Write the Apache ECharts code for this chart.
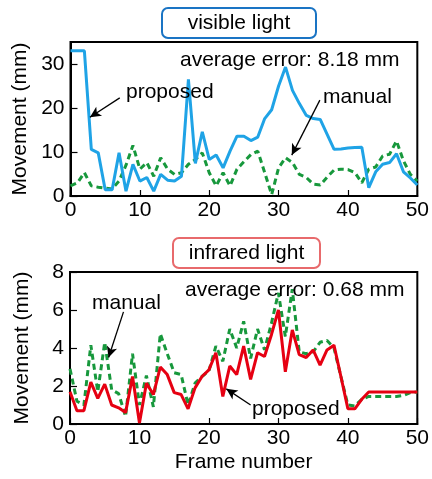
<!DOCTYPE html>
<html><head><meta charset="utf-8">
<script src="https://cdn.jsdelivr.net/npm/echarts@6/dist/echarts.min.js"></script>
<style>html,body{margin:0;padding:0;background:#fff;}#c{width:432px;height:479px;}</style>
</head><body><div id="c"></div>
<script>
const frames = [0,1,2,3,4,5,6,7,8,9,10,11,12,13,14,15,16,17,18,19,20,21,22,23,24,25,26,27,28,29,30,31,32,33,34,35,36,37,38,39,40,41,42,43,44,45,46,47,48,49,50];

const visibleProposed = [33, 33, 33, 10.6, 9.8, 1.4, 1.4, 9.8, 1.1, 7.2,
  3.4, 4.2, 1.1, 4.9, 3.6, 3.4, 4.5, 26.5, 7.4, 14.6,
  8.3, 9.3, 6.4, 10.2, 13.6, 13.6, 12.6, 13.4, 17.6, 19.6,
  25, 29.3, 24, 21, 18.3, 17.6, 17.4, 14, 10.6, 10.7,
  10.9, 11, 11.1, 1.9, 5.5, 7.2, 7.6, 9.6, 5.5, 4.1,
  2.5];
const visibleManual = [2.3, 3, 5.3, 2.3, 2, 1.8, 1.6, 3.4, 7, 11.5,
  6.1, 7.6, 4.5, 8.7, 6.1, 4.9, 5.3, 7.2, 8.3, 9.8,
  5.3, 2.3, 5.3, 2.3, 6.1, 7.8, 9.4, 10.2, 5.3, 0.3,
  6.4, 8.7, 7.6, 4.9, 4.2, 2.7, 2.5, 4.3, 5.9, 6.1,
  6.0, 5.3, 3.0, 6.1, 6.6, 9.1, 9.5, 12.5, 8, 4.9,
  3.4];
const infraredProposed = [1.7, 0.7, 0.7, 2.2, 1.35, 2.1, 1.0, 0.85, 0.6, 2.5,
  0.05, 2.15, 1.55, 3.0, 2.6, 1.65, 1.55, 0.8, 1.9, 2.5,
  2.85, 3.75, 1.45, 3.05, 2.6, 4.1, 2.35, 3.75, 3.55, 4.7,
  6.0, 2.75, 4.95, 3.65, 3.5, 3.9, 3.1, 3.9, 4.15, 2.5,
  0.8, 0.8, 1.3, 1.68, 1.68, 1.68, 1.68, 1.68, 1.68, 1.68,
  1.68];
const infraredManual = [2.9, 1.2, 1.0, 4.15, 1.7, 4.3, 1.8, 1.6, 0.4, 3.7,
  1.0, 2.55, 0.9, 4.75, 3.7, 2.7, 2.6, 1.0, 2.15, 2.5,
  2.8, 4.1, 3.3, 5.0, 4.0, 5.4, 3.45, 5.0, 3.9, 5.3,
  6.9, 4.6, 7.1, 3.8, 3.7, 3.8, 4.3, 4.4, 4.0, 2.5,
  1.0, 0.95, 1.3, 1.45, 1.45, 1.45, 1.45, 1.45, 1.5, 1.65,
  1.68];

const frameTicks = [0, 10, 20, 30, 40, 50];
const visibleTicks = [0, 10, 20, 30];
const infraredTicks = [0, 2, 4, 6, 8];

const titles = ['visible light', 'infrared light'];
const errorTexts = ['average error: 8.18 mm', 'average error: 0.68 mm'];
const yName = 'Movement (mm)';
const xName = 'Frame number';

const FONT = "'Liberation Sans', Arial, Helvetica, sans-serif";
const FS = 21;
const BLUE = '#1fa3e6', GREEN = '#17983c', RED = '#e60012';

function pairs(ys) { return frames.map((f, i) => [f, ys[i]]); }
function tickFmt(list) { return v => (list.indexOf(v) >= 0 ? String(v) : ''); }

const chart = echarts.init(document.getElementById('c'), null, {renderer: 'canvas'});

function xAxis(gi, showName) {
  return {
    type: 'value', gridIndex: gi, min: frameTicks[0], max: frameTicks[frameTicks.length - 1], interval: 10,
    axisLine: {show: true, lineStyle: {color: '#000', width: 2}},
    axisTick: {show: true, inside: true, length: 6, lineStyle: {color: '#000', width: 1.2}},
    axisLabel: {color: '#000', fontSize: FS, fontFamily: FONT, margin: 4, formatter: tickFmt(frameTicks)},
    splitLine: {show: false},
    name: showName ? xName : '', nameLocation: 'middle', nameGap: 28,
    nameTextStyle: {color: '#000', fontSize: FS, fontFamily: FONT}
  };
}
function yAxis(gi, max, interval, ticks) {
  return {
    type: 'value', gridIndex: gi, min: 0, max: max, interval: interval,
    axisLine: {show: true, lineStyle: {color: '#000', width: 2}},
    axisTick: {show: true, inside: true, length: 7, lineStyle: {color: '#000', width: 1.2}},
    axisLabel: {color: '#000', fontSize: FS, fontFamily: FONT, margin: 6, formatter: tickFmt(ticks), showMaxLabel: max === ticks[ticks.length-1]},
    splitLine: {show: false},
    name: yName, nameLocation: 'middle', nameGap: 37, nameRotate: 90,
    nameTextStyle: {color: '#000', fontSize: FS, fontFamily: FONT}
  };
}
const arrowStyle = {silent: true, symbol: ['none', 'arrow'], symbolSize: [8, 11], animation: false,
  lineStyle: {color: '#000', width: 1.3, type: 'solid'}, label: {show: false}, emphasis: {disabled: true}};

function txt(x, y, s, align) {
  return {type: 'text', left: x, top: y, style: {text: s, fill: '#000', font: FS + 'px ' + FONT, textAlign: align || 'left', textVerticalAlign: 'middle'}, z: 100};
}

chart.setOption({
  animation: false,
  grid: [
    {left: 70.5, top: 42, width: 347, height: 154, show: true, borderColor: '#000', borderWidth: 2},
    {left: 70, top: 272, width: 348, height: 152, show: true, borderColor: '#000', borderWidth: 2}
  ],
  xAxis: [xAxis(0, false), xAxis(1, true)],
  yAxis: [yAxis(0, 35, 10, visibleTicks), yAxis(1, 8, 2, infraredTicks)],
  series: [
    {type: 'line', xAxisIndex: 0, yAxisIndex: 0, data: pairs(visibleManual), showSymbol: false, symbol: 'none',
      lineStyle: {color: GREEN, width: 3, type: [6, 4]}, z: 2},
    {type: 'line', xAxisIndex: 0, yAxisIndex: 0, data: pairs(visibleProposed), showSymbol: false, symbol: 'none',
      lineStyle: {color: BLUE, width: 3}, z: 3,
      markLine: Object.assign({}, arrowStyle, {data: [
        [{coord: [7.1, 22.3]}, {coord: [2.8, 17.9]}],
        [{coord: [35.95, 21.8]}, {coord: [31.9, 9.3]}]
      ]})},
    {type: 'line', xAxisIndex: 1, yAxisIndex: 1, data: pairs(infraredManual), showSymbol: false, symbol: 'none',
      lineStyle: {color: GREEN, width: 3, type: [6, 4]}, z: 2},
    {type: 'line', xAxisIndex: 1, yAxisIndex: 1, data: pairs(infraredProposed), showSymbol: false, symbol: 'none',
      lineStyle: {color: RED, width: 3}, z: 3,
      markLine: Object.assign({}, arrowStyle, {data: [
        [{coord: [7.7, 5.9]}, {coord: [5.55, 3.5]}],
        [{coord: [26.0, 1.0]}, {coord: [22.5, 1.85]}]
      ]})}
  ],
  graphic: [
    {type: 'rect', shape: {x: 162, y: 8, width: 154, height: 30, r: 6}, style: {stroke: '#1a74c4', lineWidth: 2, fill: '#fff'}, z: 100},
    {type: 'text', x: 239, y: 23.5, style: {text: titles[0], fill: '#000', font: FS + 'px ' + FONT, textAlign: 'center', textVerticalAlign: 'middle'}, z: 101},
    {type: 'rect', shape: {x: 173, y: 238, width: 147, height: 30, r: 6}, style: {stroke: '#e86a6c', lineWidth: 2, fill: '#fff'}, z: 100},
    {type: 'text', x: 246.5, y: 253.5, style: {text: titles[1], fill: '#000', font: FS + 'px ' + FONT, textAlign: 'center', textVerticalAlign: 'middle'}, z: 101},
    {type: 'text', x: 180, y: 60, style: {text: errorTexts[0], fill: '#000', font: FS + 'px ' + FONT, textVerticalAlign: 'middle'}, z: 101},
    {type: 'text', x: 185, y: 290, style: {text: errorTexts[1], fill: '#000', font: FS + 'px ' + FONT, textVerticalAlign: 'middle'}, z: 101},
    {type: 'text', x: 126, y: 92, style: {text: 'proposed', fill: '#000', font: FS + 'px ' + FONT, textVerticalAlign: 'middle'}, z: 101},
    {type: 'text', x: 323, y: 97, style: {text: 'manual', fill: '#000', font: FS + 'px ' + FONT, textVerticalAlign: 'middle'}, z: 101},
    {type: 'text', x: 92, y: 303, style: {text: 'manual', fill: '#000', font: FS + 'px ' + FONT, textVerticalAlign: 'middle'}, z: 101},
    {type: 'text', x: 252, y: 409, style: {text: 'proposed', fill: '#000', font: FS + 'px ' + FONT, textVerticalAlign: 'middle'}, z: 101}
  ]
});
</script></body></html>
